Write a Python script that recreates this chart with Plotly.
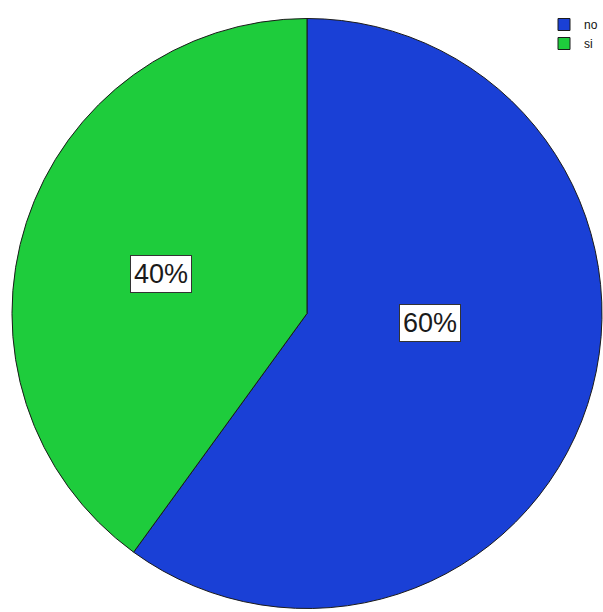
import plotly.graph_objects as go

# Response counts per answer
labels = ["no", "si"]
values = [60, 40]
colors = ["#1A40D6", "#1ECC3C"]

# Where each percentage box sits (paper fractions, box centre)
label_x = [431 / 603, 161 / 603]
label_y = [1 - 323 / 612, 1 - 274 / 612]

W, H = 603, 612
total = sum(values)

fig = go.Figure(
    go.Pie(
        labels=labels,
        values=values,
        sort=False,
        direction="clockwise",
        rotation=0,
        marker=dict(colors=colors, line=dict(color="#1b1b1b", width=1)),
        textinfo="none",
        hoverinfo="label+percent",
        domain=dict(x=[12 / W, 1], y=[0, 1 - 15 / H]),
    )
)

for lab, v, ax, ay in zip(labels, values, label_x, label_y):
    fig.add_annotation(
        x=ax, y=ay, xref="paper", yref="paper",
        xanchor="center", yanchor="middle",
        text=f"{round(100 * v / total)}%",
        showarrow=False,
        font=dict(family="Liberation Sans, Arial, sans-serif", size=27, color="#1a1a1a"),
        bgcolor="white",
        bordercolor="#333333",
        borderwidth=1,
        borderpad=3,
    )

fig.update_layout(
    width=W,
    height=H,
    margin=dict(l=0, r=0, t=0, b=0),
    paper_bgcolor="white",
    plot_bgcolor="white",
    showlegend=True,
    legend=dict(
        x=545 / W, y=1 - 10 / H, xanchor="left", yanchor="top",
        font=dict(family="Liberation Sans, Arial, sans-serif", size=12, color="#111"),
        bgcolor="rgba(0,0,0,0)",
        tracegroupgap=0,
    ),
)

fig.write_html("out.html")
